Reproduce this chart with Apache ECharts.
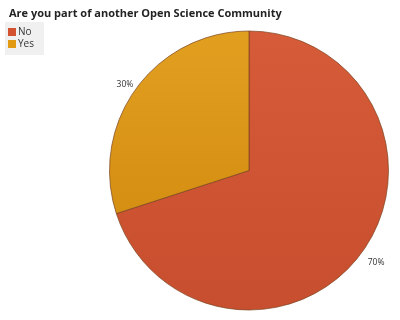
<!DOCTYPE html>
<html><head><meta charset="utf-8">
<script src="https://cdn.jsdelivr.net/npm/echarts@6/dist/echarts.min.js"></script>
<style>html,body{margin:0;padding:0;background:#fff}#c{width:400px;height:320px}</style>
</head><body><div id="c"></div>
<script>
var titleText = 'Are you part of another Open Science Community';
var categories = ['No', 'Yes'];
var values = [70, 30];
var colors = [
  new echarts.graphic.LinearGradient(0,0,0,1,[{offset:0,color:'#D65B39'},{offset:1,color:'#C74E2E'}]),
  new echarts.graphic.LinearGradient(0,0,0,1,[{offset:0,color:'#E19F20'},{offset:1,color:'#D58F12'}])
];
var legendColors = ['#D3512F', '#E29A12'];
var labelOffsets = [[0, 9], [3, -3]];
var chart = echarts.init(document.getElementById('c'));
chart.setOption({
  animation:false,
  title:{text:titleText,left:4,top:3,textStyle:{fontFamily:'Open Sans',fontWeight:'bold',fontSize:11,color:'#222'}},
  legend:{orient:'vertical',left:5,top:22,itemWidth:8,itemHeight:8,itemGap:2,icon:'rect',
    backgroundColor:'#f0f0f0',padding:[5,10,6,3],
    itemStyle:{borderWidth:0},
    textStyle:{fontFamily:'Open Sans',fontSize:10,color:'#333',padding:[0,0,0,-3]},
    data:categories.map(function(c,i){return {name:c,itemStyle:{color:legendColors[i],borderWidth:0}};})},
  series:[{type:'pie',center:[249,170.5],radius:139.5,startAngle:90,clockwise:true,
    data:categories.map(function(c,i){return {name:c,value:values[i],itemStyle:{color:colors[i]},label:{offset:labelOffsets[i]}};}),
    itemStyle:{borderColor:'#7a4420',borderWidth:0.7},
    label:{show:true,position:'outside',overflow:'none',formatter:function(p){return Math.round(p.percent)+'%';},
      fontFamily:'Open Sans',fontSize:8.5,color:'#333'},
    labelLine:{show:false,length:1,length2:0},
    emphasis:{disabled:true}
  }]
});
</script></body></html>
